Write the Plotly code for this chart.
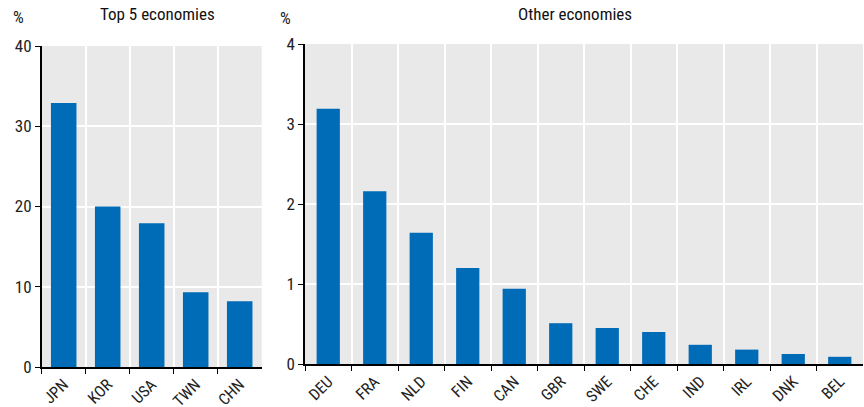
import plotly.graph_objects as go

top_cats = ["JPN", "KOR", "USA", "TWN", "CHN"]
top_vals = [32.9, 20.0, 17.9, 9.3, 8.2]

other_cats = ["DEU", "FRA", "NLD", "FIN", "CAN", "GBR", "SWE", "CHE", "IND", "IRL", "DNK", "BEL"]
other_vals = [3.19, 2.16, 1.64, 1.20, 0.94, 0.51, 0.45, 0.40, 0.24, 0.18, 0.125, 0.09]

FONT = "Liberation Sans Narrow, Arial Narrow, Roboto Condensed, Liberation Sans, sans-serif"
BAR = "#006BB6"
BG = "#E9E9E9"

fig = go.Figure()
fig.add_trace(go.Bar(x=top_cats, y=top_vals, marker=dict(color=BAR, line=dict(width=0)),
                     width=0.58, xaxis="x", yaxis="y", showlegend=False))
fig.add_trace(go.Bar(x=other_cats, y=other_vals, marker=dict(color=BAR, line=dict(width=0)),
                     width=0.5, xaxis="x2", yaxis="y2", showlegend=False))

W, H = 864, 407
T, B = 44, 40
ph = H - T - B

xcommon = dict(type="category", tickson="boundaries", showgrid=True, gridcolor="white", gridwidth=1.5,
               ticks="outside", ticklen=5, tickcolor="black", showline=True, linecolor="black", linewidth=2,
               tickangle=-45, tickfont=dict(family=FONT, size=16, color="#222"), automargin=False,
               fixedrange=True)
ycommon = dict(showgrid=True, gridcolor="white", gridwidth=1.5, ticks="outside", ticklen=5,
               tickcolor="black", showline=True, linecolor="black", linewidth=1.5, zeroline=False,
               tickfont=dict(family=FONT, size=17, color="#222"), automargin=False, fixedrange=True)


def py(p):
    # pixel row from top -> paper y
    return 1 + (T - p) / ph


fig.update_layout(
    width=W, height=H,
    margin=dict(l=0, r=0, t=T, b=B),
    paper_bgcolor="white", plot_bgcolor=BG,
    bargap=0.4,
    font=dict(family=FONT, color="#222"),
    xaxis=dict(domain=[41.7 / W, 261.7 / W], anchor="y", **xcommon),
    yaxis=dict(domain=[0, (H - B - 46) / ph], anchor="x", range=[0, 40], tickvals=[0, 10, 20, 30, 40], **ycommon),
    xaxis2=dict(domain=[305 / W, 863 / W], anchor="y2", **xcommon),
    yaxis2=dict(domain=[3 / ph, 1], anchor="x2", range=[0, 4], tickvals=[0, 1, 2, 3, 4], **ycommon),
    annotations=[
        dict(text="Top 5 economies", x=157 / W, y=py(14), xref="paper", yref="paper", showarrow=False,
             font=dict(family=FONT, size=17, color="#111"), xanchor="center", yanchor="middle"),
        dict(text="Other economies", x=575 / W, y=py(14), xref="paper", yref="paper", showarrow=False,
             font=dict(family=FONT, size=17, color="#111"), xanchor="center", yanchor="middle"),
        dict(text="%", x=18 / W, y=py(17), xref="paper", yref="paper", showarrow=False,
             font=dict(family=FONT, size=17, color="#222"), xanchor="center", yanchor="middle"),
        dict(text="%", x=285 / W, y=py(18), xref="paper", yref="paper", showarrow=False,
             font=dict(family=FONT, size=17, color="#222"), xanchor="center", yanchor="middle"),
    ],
)

fig.write_html("out.html", config={"displayModeBar": False},
               post_script="document.body.style.margin='0';document.body.style.overflow='hidden';")
